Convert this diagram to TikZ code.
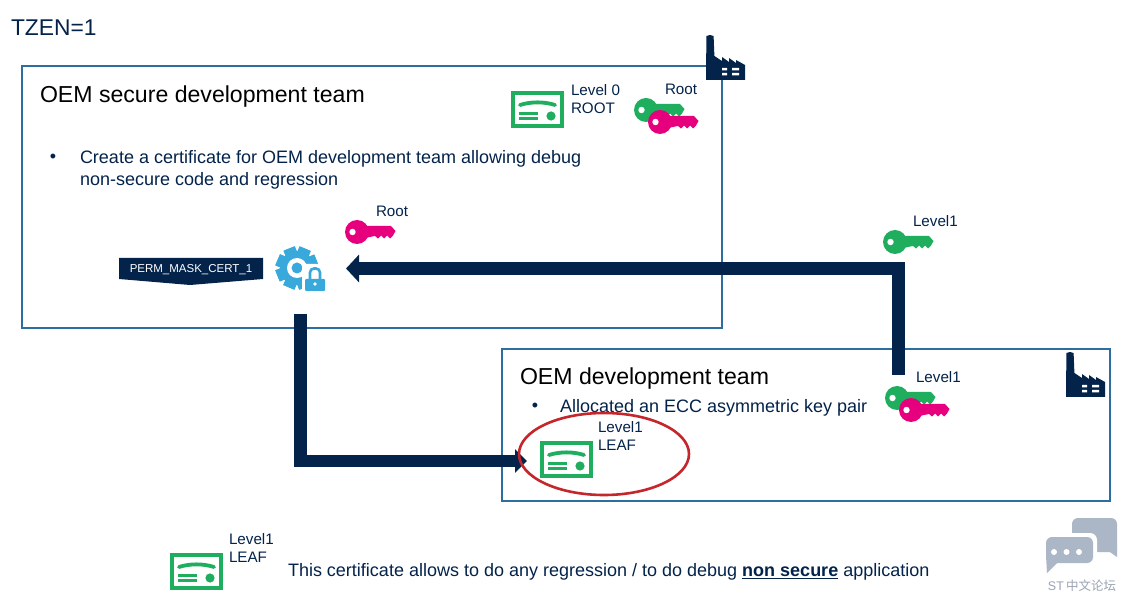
\documentclass[tikz,border=0pt]{standalone}
\usepackage{fontspec}
\setmainfont{Liberation Sans}
\newfontfamily\cjkfont{Noto Sans CJK SC}
\usepackage{tikz}
\usetikzlibrary{arrows.meta, positioning, calc, shapes.geometric}

\definecolor{navy}{HTML}{03234B}
\definecolor{teamline}{HTML}{2E6E9E}
\definecolor{keygreen}{HTML}{1FAE5E}
\definecolor{keypink}{HTML}{E6007E}
\definecolor{gearblue}{HTML}{39A9DC}
\definecolor{bubblegray}{HTML}{ABB6C6}
\definecolor{ringred}{HTML}{C4262B}

\newcommand{\pxfont}[1]{\fontsize{#1}{#1}\selectfont}

\begin{document}
\begin{tikzpicture}[
  x=1pt, y=-1pt,
  every node/.style={inner sep=0pt, outer sep=0pt, text=navy},
  team/.style={draw=teamline, line width=1.2pt, fill=white, anchor=north west},
  heading/.style={anchor=west, text=black, font=\pxfont{23.1}},
  body/.style={anchor=west, font=\pxfont{18}},
  dotmark/.style={anchor=center, font=\pxfont{18}},
  small/.style={anchor=north west, align=left, font=\fontsize{15.2}{18}\selectfont},
  flow/.style={draw=navy, line width=12.5pt, line join=miter},
  certicon/.pic={
    \draw[keygreen, line width=4.4pt] (2.2,2.2) rectangle (50.8,34.8);
    \draw[keygreen, line width=3.8pt, line cap=round]
      (9,14) .. controls (20,10.5) and (33,10.5) .. (44,14);
    \draw[keygreen, line width=3pt] (8,22.5) -- (27,22.5) (8,27.5) -- (27,27.5);
    \fill[keygreen] (40,25) circle (4.6);
  },
  keyicon/.pic={
    \path[pic actions] (0,0) circle (12);
    \path[pic actions] (8,-6) -- (34,-6) -- (38.5,-1) -- (36,3.5) -- (33,6.5) -- (30,3.5)
      -- (27,6.5) -- (24,3.5) -- (21,6.5) -- (18,4) -- (8,6) -- cycle;
    \fill[white] (-4.5,0) circle (3.2);
  },
  factoryicon/.pic={
    \fill[navy] (0,45) -- (0.4,1) -- (4,0) -- (7.6,1) -- (8.4,21) -- (16,26) -- (16,22)
      -- (23,27) -- (23,23) -- (30,28) -- (30,25) -- (39,30) -- (39,45) -- cycle;
    \fill[white] (16,33) rectangle (21,35.5) (26,33) rectangle (33,35.5)
      (16,38) rectangle (21,40.5) (26,38) rectangle (33,40.5);
  },
]
\useasboundingbox (0,0) rectangle (1125,601);
\fill[white] (0,0) rectangle (1125,601);

%% ── Title ─────────────────────────────────────────────────────────────────
\node[anchor=west, font=\pxfont{22.8}] (tzen) at (11,28) {TZEN=1};

%% ── Secure team box ───────────────────────────────────────────────────────
\node[team, minimum width=700pt, minimum height=262pt] (secure) at (22,66) {};
\pic at (706,35) {factoryicon};
\node[heading] (secureTitle) at (40,97) {OEM secure development team};
\node[dotmark] (secureDot) at (53,158) {•};
\node[body, anchor=north west, align=left, font=\fontsize{18}{22}\selectfont]
  (secureText) at (80,150)
  {Create a certificate for OEM development team allowing debug\\non-secure code and regression};
\pic at (511,91) {certicon};
\node[small] (rootCert) at (571,84) {Level 0\\ROOT};
\node[small] (rootName) at (665,84) {Root};
\pic[fill=keygreen] at (646,110) {keyicon};
\pic[fill=keypink] at (660,122) {keyicon};

%% ── Signing step ──────────────────────────────────────────────────────────
\node[small] (signName) at (376,206) {Root};
\pic[fill=keypink] at (357,232) {keyicon};
\fill[navy] (119,258) -- (263,258) -- (263,279) -- (190,285) -- (119,279) -- cycle;
\node[font=\pxfont{11.5}, text=white] (permMask) at (191,270) {PERM\_MASK\_CERT\_1};
\foreach \a in {0,45,...,315}
  \fill[gearblue, rotate around={\a+22:(297,268)}] (291,247) rectangle (303,289);
\fill[gearblue] (297,268) circle (17);
\fill[white] (297,268) circle (10);
\fill[gearblue] (297,268) circle (5.5);
\fill[white, rounded corners=2pt] (302,264) rectangle (328,294);
\draw[gearblue, line width=2.6pt, rounded corners=4pt] (310,280) -- (310,268.5) -- (320,268.5) -- (320,280);
\fill[gearblue, rounded corners=1pt] (305,279) rectangle (325,291);
\fill[white] (315,284) circle (1.8);
\node[minimum size=1pt] (gear) at (297,268) {};

%% ── Development team box ──────────────────────────────────────────────────
\node[team, minimum width=608pt, minimum height=152pt] (devteam) at (502,349) {};
\pic at (1066,352) {factoryicon};
\node[heading] (devTitle) at (520,379) {OEM development team};
\node[dotmark] (devDot) at (535,407) {•};
\node[body] (devText) at (560,408) {Allocated an ECC asymmetric key pair};
\node[small] (devName) at (916,371) {Level1};
\pic[fill=keygreen] at (897,398) {keyicon};
\pic[fill=keypink] at (911,410) {keyicon};
\pic at (540,441) {certicon};
\node[small] (leafCert) at (598,421) {Level1\\LEAF};

%% ── Returned key ──────────────────────────────────────────────────────────
\node[small] (returnName) at (913,215) {Level1};
\pic[fill=keygreen] at (895,242) {keyicon};

%% ── Connectors ────────────────────────────────────────────────────────────
\coordinate (devOut) at (898.5,375);
\coordinate (gearIn) at (346,268.5);
\coordinate (gearOut) at (300.5,314);
\coordinate (leafIn) at (527,461);
\draw[flow, -{Triangle[length=13pt, width=27pt]}] (devOut) |- (gearIn);
\draw[flow, -{Triangle[length=12pt, width=23pt]}] (gearOut) |- (leafIn);

%% ── Leaf highlight ────────────────────────────────────────────────────────
\node[draw=ringred, line width=2.6pt, ellipse, minimum width=170pt, minimum height=82pt] (ring) at (604,454) {};

%% ── Legend ────────────────────────────────────────────────────────────────
\pic at (170,553) {certicon};
\node[small] (legendCert) at (229,533) {Level1\\LEAF};
\node[body, anchor=west] (legendText) at (288,572)
  {This certificate allows to do any regression / to do debug \underline{\textbf{non secure}} application};

%% ── Forum mark ────────────────────────────────────────────────────────────
\fill[bubblegray, rounded corners=6pt] (1072,518) rectangle (1117,552);
\fill[bubblegray] (1100,545) -- (1117,545) -- (1117,557) -- cycle;
\fill[white, rounded corners=7pt] (1043,533) rectangle (1097,568);
\fill[bubblegray, rounded corners=6pt] (1046,537) rectangle (1093,563);
\fill[bubblegray] (1046,555) -- (1060,560) -- (1047,573) -- cycle;
\fill[white] (1054,552) circle (3) (1066.5,552) circle (3) (1079,552) circle (3);
\node[text=bubblegray!90!black, font=\pxfont{12.5}] (forum) at (1082,586) {ST\,{\cjkfont 中文论坛}};

\end{tikzpicture}
\end{document}
